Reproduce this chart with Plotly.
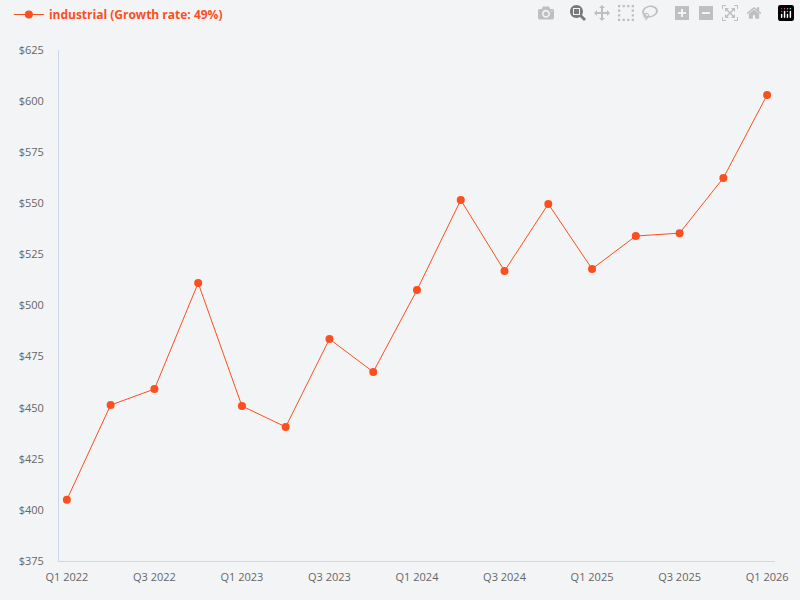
import plotly.graph_objects as go

quarters = ["Q1 2022","Q2 2022","Q3 2022","Q4 2022","Q1 2023","Q2 2023","Q3 2023","Q4 2023",
            "Q1 2024","Q2 2024","Q3 2024","Q4 2024","Q1 2025","Q2 2025","Q3 2025","Q4 2025","Q1 2026"]
values = [405, 451.3, 459.1, 511, 450.8, 440.6, 483.6, 467.5, 507.6, 551.6, 516.9, 549.7,
          517.9, 534, 535.4, 562.4, 603]
series_name = "industrial (Growth rate: 49%)"
color = "#fc4f1f"

fig = go.Figure(go.Scatter(x=list(range(len(quarters))), y=values, mode="lines+markers",
                           name=series_name, line=dict(color=color, width=1),
                           marker=dict(color=color, size=8)))
fig.update_layout(
    width=800, height=600, paper_bgcolor="#f3f4f6", plot_bgcolor="#f3f4f6",
    margin=dict(l=59, r=15, t=50, b=39),
    font=dict(family="Open Sans", size=11, color="#666"),
    showlegend=True,
    legend=dict(orientation="h", x=-0.07, y=1.0, yref="container", yanchor="top",
                font=dict(color=color, size=12, weight="bold"), bgcolor="rgba(0,0,0,0)",
                itemwidth=30),
    xaxis=dict(range=[-0.18, 16.18], tickmode="array", tickvals=list(range(0, 17, 2)),
               ticktext=quarters[::2], showgrid=False, zeroline=False, showline=True,
               linecolor="#ccd6eb", ticks="outside", ticklen=6, tickcolor="rgba(0,0,0,0)"),
    yaxis=dict(range=[375, 625], dtick=25, tickprefix="$", showgrid=False, zeroline=False,
               showline=True, linecolor="#ccd6eb", ticks="outside", ticklen=12,
               tickcolor="rgba(0,0,0,0)"),
)
fig.write_html("out.html", post_script="document.body.style.margin='0';document.body.style.background='#f3f4f6';")
